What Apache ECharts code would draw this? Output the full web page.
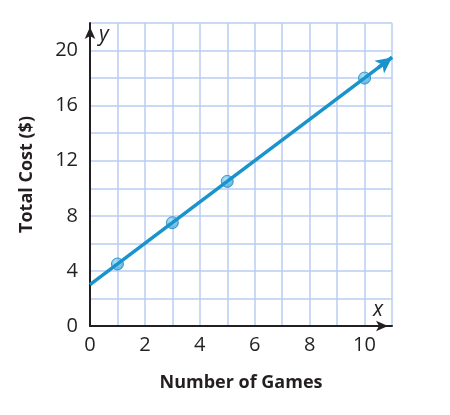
<!DOCTYPE html>
<html>
<head>
<meta charset="utf-8">
<script src="https://cdn.jsdelivr.net/npm/echarts@6/dist/echarts.min.js"></script>
<style>
  html, body { margin: 0; padding: 0; background: #fff; }
  #chart { width: 450px; height: 415px; }
</style>
</head>
<body>
<div id="chart"></div>
<script>
// data
var games = [1, 3, 5, 10]
var cost = [4.5, 7.5, 10.5, 18]
var lineStart = [0, 3]
var lineEnd = [11, 19.5]
var xLabels = [0, 2, 4, 6, 8, 10]
var yLabels = [0, 4, 8, 12, 16, 20]

var font = '"Open Sans", "Noto Sans", sans-serif'
var gridColor = '#b9cdf3'
var axisColor = '#231f20'

var chart = echarts.init(document.getElementById('chart'))

var points = games.map(function (g, i) { return [g, cost[i]] })

chart.setOption({
  animation: false,
  grid: { left: 90, right: 58, top: 23, bottom: 89 },
  xAxis: {
    type: 'value',
    min: 0,
    max: 11,
    interval: 1,
    name: 'Number of Games',
    nameLocation: 'middle',
    nameGap: 48,
    nameTextStyle: { fontFamily: font, fontSize: 18, fontWeight: 'bold', color: axisColor },
    axisLine: { lineStyle: { color: axisColor, width: 2 }, symbol: ['none', 'arrow'], symbolSize: [8, 12], symbolOffset: [0, -4] },
    axisTick: { show: false },
    axisLabel: {
      fontFamily: font, fontSize: 20, color: axisColor, margin: 9,
      formatter: function (v) { return xLabels.indexOf(v) >= 0 ? String(v) : '' }
    },
    splitLine: { show: true, lineStyle: { color: gridColor, width: 1.5 } }
  },
  yAxis: {
    type: 'value',
    min: 0,
    max: 22,
    interval: 2,
    name: 'Total Cost ($)',
    nameLocation: 'middle',
    nameGap: 54,
    nameTextStyle: { fontFamily: font, fontSize: 18, fontWeight: 'bold', color: axisColor },
    axisLine: { lineStyle: { color: axisColor, width: 2 }, symbol: ['none', 'arrow'], symbolSize: [8, 12], symbolOffset: [0, -4] },
    axisTick: { show: false },
    axisLabel: {
      fontFamily: font, fontSize: 20, color: axisColor, margin: 12,
      formatter: function (v) { return yLabels.indexOf(v) >= 0 ? String(v) : '' }
    },
    splitLine: { show: true, lineStyle: { color: gridColor, width: 1.5 } }
  },
  series: [
    {
      type: 'line',
      data: [lineStart, lineEnd],
      symbol: 'none',
      lineStyle: { color: '#1a93cc', width: 3.5 },
      markLine: {
        silent: true,
        symbol: ['none', 'arrow'],
        symbolSize: [12, 16],
        label: { show: false },
        lineStyle: { color: '#1a93cc', width: 3.5, type: 'solid' },
        data: [[{ coord: [lineEnd[0] - 0.5, lineEnd[1] - 0.75] }, { coord: lineEnd }]]
      }
    },
    {
      type: 'scatter',
      data: points,
      symbol: 'circle',
      symbolSize: 12,
      itemStyle: {
        color: new echarts.graphic.RadialGradient(0.4, 0.35, 0.7, [
          { offset: 0, color: '#a6dcf5' },
          { offset: 1, color: '#2a9fd6' }
        ]),
        borderColor: '#1a86bd',
        borderWidth: 1
      }
    }
  ],
  graphic: [
    { type: 'text', left: 99, top: 25, style: { text: 'y', fontFamily: font, fontSize: 21, fontStyle: 'italic', fill: axisColor } },
    { type: 'text', left: 373, top: 300, style: { text: 'x', fontFamily: font, fontSize: 21, fontStyle: 'italic', fill: axisColor } }
  ]
})
</script>
</body>
</html>
